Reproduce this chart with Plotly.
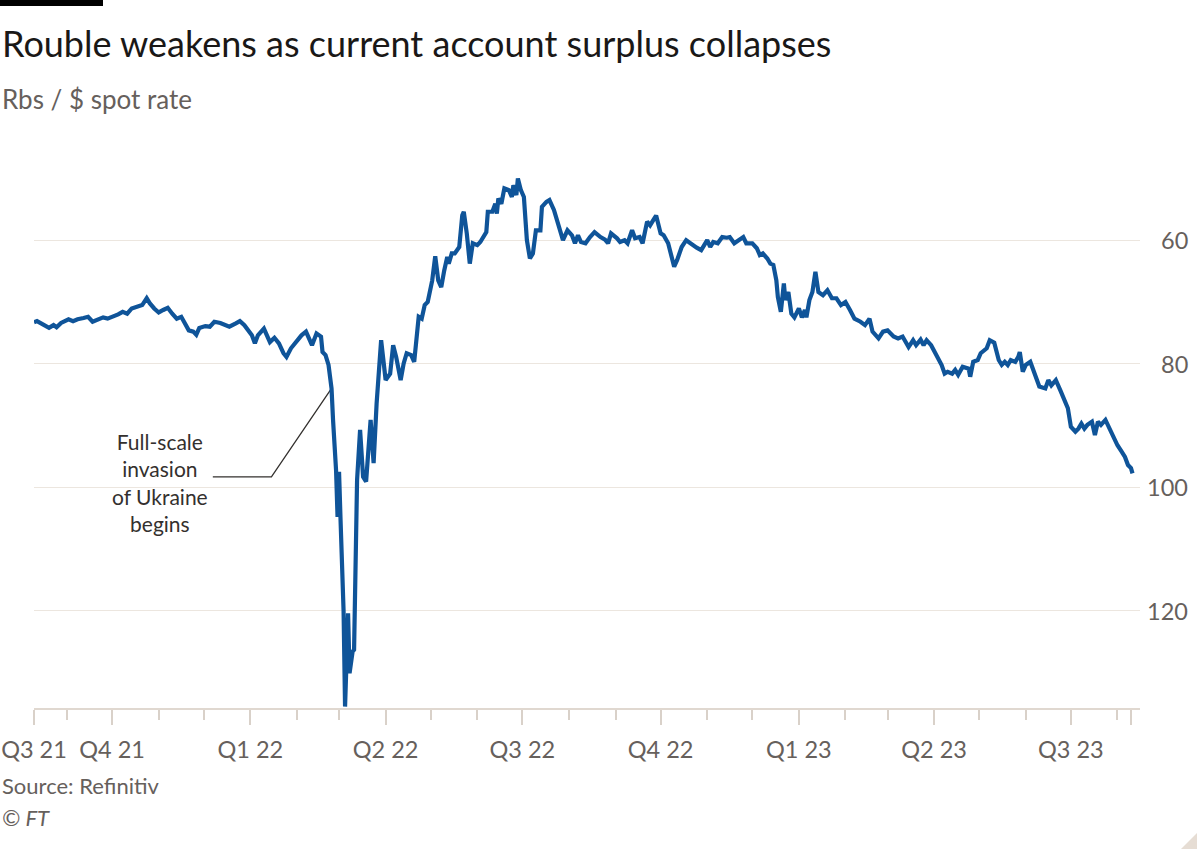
import plotly.graph_objects as go

# ---------------- data ----------------
dates = [
    "2021-08-10","2021-08-12","2021-08-15","2021-08-20","2021-08-23","2021-08-25","2021-08-28",
    "2021-09-02","2021-09-05","2021-09-08","2021-09-12","2021-09-15","2021-09-18","2021-09-22",
    "2021-09-25","2021-09-28","2021-10-02","2021-10-05","2021-10-08","2021-10-11","2021-10-14",
    "2021-10-17","2021-10-21","2021-10-24","2021-10-26","2021-10-29","2021-11-01","2021-11-04",
    "2021-11-07","2021-11-10","2021-11-13","2021-11-16","2021-11-18","2021-11-21","2021-11-24",
    "2021-11-26","2021-11-28","2021-12-02","2021-12-05","2021-12-08","2021-12-12","2021-12-15",
    "2021-12-18","2021-12-22","2021-12-25","2021-12-28","2021-12-31",
    "2022-01-02","2022-01-04","2022-01-06","2022-01-10","2022-01-12","2022-01-14","2022-01-17",
    "2022-01-20","2022-01-23","2022-01-25","2022-01-28","2022-02-01","2022-02-04","2022-02-07",
    "2022-02-11","2022-02-14","2022-02-17","2022-02-18","2022-02-20","2022-02-22","2022-02-24",
    "2022-02-25","2022-02-27","2022-02-28","2022-03-01","2022-03-02","2022-03-04","2022-03-05",
    "2022-03-07","2022-03-08","2022-03-10","2022-03-11","2022-03-13","2022-03-15","2022-03-17",
    "2022-03-19","2022-03-22","2022-03-24","2022-03-26","2022-03-29","2022-04-01","2022-04-04",
    "2022-04-06","2022-04-08","2022-04-11","2022-04-13","2022-04-15","2022-04-18","2022-04-20",
    "2022-04-23","2022-04-25","2022-04-27","2022-04-29","2022-05-02","2022-05-04","2022-05-06",
    "2022-05-08","2022-05-10","2022-05-12","2022-05-13","2022-05-15","2022-05-17","2022-05-20",
    "2022-05-22","2022-05-23","2022-05-25","2022-05-27","2022-05-29","2022-06-01","2022-06-03",
    "2022-06-05","2022-06-07","2022-06-08","2022-06-11","2022-06-13","2022-06-14","2022-06-15",
    "2022-06-17","2022-06-19","2022-06-22","2022-06-24","2022-06-25","2022-06-27","2022-06-28",
    "2022-06-30","2022-07-02","2022-07-04","2022-07-06","2022-07-08","2022-07-10","2022-07-13",
    "2022-07-14","2022-07-17","2022-07-19","2022-07-22","2022-07-24","2022-07-26","2022-07-28",
    "2022-07-31","2022-08-03","2022-08-05","2022-08-07","2022-08-09","2022-08-12","2022-08-15",
    "2022-08-18","2022-08-22","2022-08-25","2022-08-27","2022-08-29","2022-09-02","2022-09-04",
    "2022-09-07","2022-09-09","2022-09-12","2022-09-14","2022-09-17","2022-09-19","2022-09-22",
    "2022-09-24","2022-09-26","2022-09-28","2022-10-01","2022-10-03","2022-10-06","2022-10-08",
    "2022-10-10","2022-10-12","2022-10-15","2022-10-18","2022-10-22","2022-10-25","2022-10-28",
    "2022-11-01","2022-11-03","2022-11-05","2022-11-08","2022-11-11","2022-11-14","2022-11-16",
    "2022-11-19","2022-11-22","2022-11-25","2022-11-27","2022-12-01","2022-12-04","2022-12-06",
    "2022-12-08","2022-12-11","2022-12-13","2022-12-15","2022-12-17","2022-12-18","2022-12-20",
    "2022-12-22","2022-12-23","2022-12-25","2022-12-27","2022-12-29",
    "2023-01-01","2023-01-03","2023-01-05","2023-01-06","2023-01-08","2023-01-10","2023-01-12",
    "2023-01-14","2023-01-17","2023-01-20","2023-01-23","2023-01-26","2023-01-29","2023-02-01",
    "2023-02-04","2023-02-07","2023-02-11","2023-02-14","2023-02-17","2023-02-19","2023-02-23",
    "2023-02-26","2023-03-01","2023-03-05","2023-03-08","2023-03-11","2023-03-15","2023-03-18",
    "2023-03-20","2023-03-23","2023-03-25","2023-03-27","2023-03-30","2023-04-02","2023-04-04",
    "2023-04-06","2023-04-08","2023-04-10","2023-04-13","2023-04-15","2023-04-17","2023-04-20",
    "2023-04-24","2023-04-25","2023-04-27","2023-04-30","2023-05-02","2023-05-06","2023-05-08",
    "2023-05-11","2023-05-14","2023-05-16","2023-05-18","2023-05-20","2023-05-22","2023-05-25",
    "2023-05-27","2023-05-28","2023-05-30","2023-06-01","2023-06-04","2023-06-06","2023-06-08",
    "2023-06-10","2023-06-14","2023-06-16","2023-06-18","2023-06-21","2023-06-24","2023-06-27",
    "2023-06-29","2023-07-01","2023-07-04","2023-07-06","2023-07-08","2023-07-10","2023-07-12",
    "2023-07-15","2023-07-17","2023-07-19","2023-07-21","2023-07-24","2023-07-26","2023-07-29",
    "2023-08-01","2023-08-04","2023-08-06","2023-08-08","2023-08-10","2023-08-11",
]

rub_per_usd = [
    73.3,73.1,73.5,74.2,73.75,74.1,73.4,
    72.8,73.1,72.8,72.6,72.4,73.2,72.7,
    72.5,72.7,72.4,72.0,71.6,71.9,71.05,
    70.8,70.5,69.4,70.2,71.05,71.7,71.3,
    70.95,71.9,72.7,72.4,73.2,74.6,74.8,
    75.3,74.2,73.9,74.0,73.2,73.4,73.75,
    74.0,73.5,73.1,73.75,74.8,
    75.4,76.7,75.4,74.3,75.4,76.5,75.8,
    76.7,78.3,78.9,77.5,76.2,75.4,74.8,
    77.0,75.1,75.6,78.1,78.6,80.2,84.0,
    89.1,97.2,104.8,97.5,105.3,119.9,135.5,
    120.4,130.1,126.6,126.3,98.8,90.7,98.3,
    99.1,89.1,96.1,86.4,76.2,82.65,81.6,
    77.0,78.9,82.65,79.95,78.3,78.6,79.7,
    72.4,72.7,70.5,70.0,66.5,62.6,66.5,
    67.6,64.9,62.7,63.8,62.15,62.15,61.1,
    55.95,55.4,58.9,63.8,60.5,60.8,60.3,
    59.5,58.7,55.4,55.4,54.1,55.7,53.25,
    54.1,51.6,51.9,53.0,51.1,52.7,50.0,
    51.9,53.0,60.0,62.96,62.15,58.4,58.4,
    54.6,53.8,53.5,55.1,56.8,58.9,60.0,
    58.4,59.2,60.5,59.2,60.3,60.5,59.5,
    58.7,59.5,59.9,60.5,58.9,59.7,60.3,
    60.0,60.5,58.4,59.7,59.5,60.5,57.0,
    57.6,56.8,56.0,58.9,59.2,60.5,62.4,
    64.3,63.2,61.1,60.0,60.8,61.2,61.6,
    60.0,61.1,60.3,60.5,59.5,59.6,59.5,
    60.5,60.0,59.5,60.5,60.5,61.3,62.4,
    62.15,62.96,63.8,64.0,66.5,69.2,71.6,
    67.0,69.7,68.4,71.9,72.5,
    71.05,72.5,71.3,72.5,69.7,68.4,65.1,
    68.4,68.9,68.1,69.4,69.4,70.5,70.0,
    71.3,72.7,73.2,73.75,72.7,74.8,75.9,
    74.8,74.6,75.6,75.9,75.6,77.3,76.2,
    77.0,76.1,77.0,76.2,77.0,78.3,79.4,
    80.2,81.6,81.3,81.6,81.0,81.8,80.5,
    80.8,82.1,79.7,79.4,78.3,77.5,76.2,
    76.6,79.4,80.2,79.7,80.2,79.4,79.7,
    78.9,78.1,81.3,80.2,79.7,81.0,82.4,
    83.7,84.0,82.65,83.5,82.65,84.3,85.9,
    87.2,90.2,91.0,90.5,89.7,90.5,89.9,
    89.4,91.55,89.4,89.9,89.1,90.2,91.8,
    93.2,94.3,95.1,96.4,96.9,97.75,
]

x_tick_dates = ["2021-08-10","2021-10-01","2022-01-01","2022-04-01","2022-07-01",
                "2022-10-01","2023-01-01","2023-04-01","2023-07-01","2023-08-10"]
x_tick_labels = ["Q3 21","Q4 21","Q1 22","Q2 22","Q3 22","Q4 22","Q1 23","Q2 23","Q3 23",""]
x_minor_dates = ["2021-09-01","2021-11-01","2021-12-01","2022-02-01","2022-03-01","2022-05-01",
                 "2022-06-01","2022-08-01","2022-09-01","2022-11-01","2022-12-01","2023-02-01",
                 "2023-03-01","2023-05-01","2023-06-01","2023-08-01"]
x_range = ["2021-08-10","2023-08-16"]

y_ticks = [60, 80, 100, 120]
y_tick_labels = ["60", "80", "100", "120"]
y_range = [135.73, 45.4]

# annotation: invasion leader line (date, value) and label
leader_dates = ["2022-02-24", "2022-01-15", "2021-12-07"]
leader_values = [84.0, 98.3, 98.3]
note_date = "2021-11-02"
note_value = 99.2
note_text = "Full-scale<br>invasion<br>of Ukraine<br>begins"

title = "Rouble weakens as current account surplus collapses"
subtitle = "Rbs / $ spot rate"
source = "Source: Refinitiv"
credit = "© FT"

# ---------------- styling ----------------
FONT = "Lato"
W, H = 1200, 857
ML, MR, MT, MB = 34, 8, 150, 149
PW = W - ML - MR
PH = H - MT - MB
x_dom_end = (1140 - ML) / PW

def px_x(px):
    return (px - ML) / PW

def px_y(py):
    return (H - MB - py) / PH

fig = go.Figure()

fig.add_trace(go.Scatter(
    x=leader_dates, y=leader_values, mode="lines",
    line=dict(color="#33302e", width=1.3), hoverinfo="skip", showlegend=False,
))

fig.add_trace(go.Scatter(
    x=dates, y=rub_per_usd, mode="lines",
    line=dict(color="#0f5499", width=4.2, shape="linear"),
    showlegend=False, name="Rbs / $",
))

fig.update_layout(
    width=W, height=H,
    margin=dict(l=ML, r=MR, t=MT, b=MB, autoexpand=False),
    paper_bgcolor="#ffffff", plot_bgcolor="#ffffff",
    font=dict(family=FONT, color="#66605c"),
    showlegend=False,
    xaxis=dict(
        domain=[0, x_dom_end], range=x_range, type="date",
        tickmode="array", tickvals=x_tick_dates, ticktext=x_tick_labels,
        ticks="outside", ticklen=15, tickwidth=1.5, tickcolor="#d9d1c9",
        ticklabelstandoff=5,
        showline=True, linecolor="#e0d8d0", linewidth=1.5,
        showgrid=False, zeroline=False,
        tickfont=dict(family=FONT, size=23.5, color="#66605c"),
        minor=dict(tickmode="array", tickvals=x_minor_dates, ticks="outside",
                   ticklen=10, tickwidth=1.5, tickcolor="#d9d1c9", showgrid=False),
        automargin=False,
    ),
    yaxis=dict(
        range=y_range, tickmode="array", tickvals=y_ticks,
        showticklabels=False,
        showgrid=True, gridcolor="#ece6df", gridwidth=1.2,
        zeroline=False, showline=False, ticks="",
        automargin=False,
    ),
)

anns = [
    dict(text=title, x=px_x(0), y=px_y(43), xref="paper", yref="paper",
         xanchor="left", yanchor="middle", showarrow=False,
         font=dict(family=FONT, size=36, color="#1a1817")),
    dict(text=subtitle, x=px_x(0), y=px_y(99), xref="paper", yref="paper",
         xanchor="left", yanchor="middle", showarrow=False,
         font=dict(family=FONT, size=26, color="#66605c")),
    dict(text=source, x=px_x(0), y=px_y(786), xref="paper", yref="paper",
         xanchor="left", yanchor="middle", showarrow=False,
         font=dict(family=FONT, size=22, color="#66605c")),
    dict(text="<i>" + credit + "</i>", x=px_x(0), y=px_y(817), xref="paper", yref="paper",
         xanchor="left", yanchor="middle", showarrow=False,
         font=dict(family=FONT, size=22, color="#66605c")),
    dict(text=note_text, x=note_date, y=note_value, xref="x", yref="y",
         xanchor="center", yanchor="middle", showarrow=False, align="center",
         font=dict(family=FONT, size=21, color="#33302e")),
]
for v, t in zip(y_ticks, y_tick_labels):
    anns.append(dict(text=t, x=px_x(1190), y=v, xref="paper", yref="y",
                     xanchor="right", yanchor="middle", showarrow=False,
                     font=dict(family=FONT, size=23.5, color="#66605c")))
fig.update_layout(annotations=anns)

fig.update_layout(shapes=[
    dict(type="rect", xref="paper", yref="paper",
         x0=px_x(0), x1=px_x(103), y0=px_y(6), y1=px_y(0),
         fillcolor="#000000", line=dict(width=0), layer="above"),
    dict(type="path", xref="paper", yref="paper",
         path=f"M {px_x(1197)} {px_y(833)} L {px_x(1197)} {px_y(849)} L {px_x(1181)} {px_y(849)} Z",
         fillcolor="#e6ddd4", line=dict(width=0)),
])

fig.write_html("out.html")
